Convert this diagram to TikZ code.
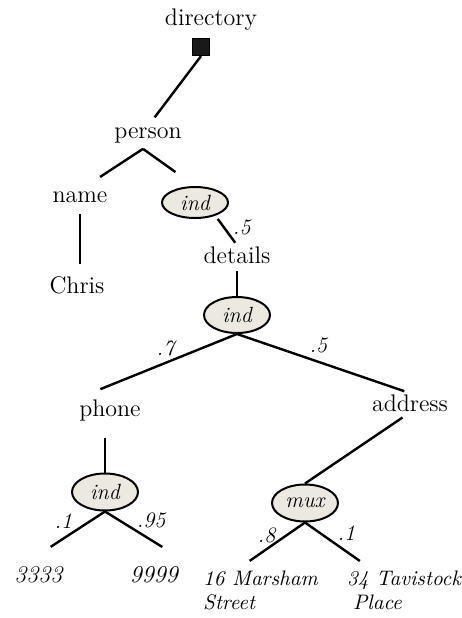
\documentclass[tikz,border=0pt]{standalone}
\usepackage{fontspec}
\usepackage{tikz}
\usetikzlibrary{positioning, shapes.geometric}

\definecolor{indfill}{RGB}{236,234,224}
\tikzset{
  lbl/.style={font=\fontsize{12}{14}\selectfont, inner sep=0pt, anchor=base},
  leaf/.style={lbl, font=\fontsize{12}{14}\selectfont\itshape},
  addr/.style={font=\fontsize{10.5}{12}\selectfont\itshape, align=left, inner sep=0pt, anchor=north west},
  choice/.style={ellipse, draw, fill=indfill, line width=1pt, inner sep=0pt,
    minimum width=33pt, minimum height=18.5pt, font=\fontsize{11}{13}\selectfont\itshape},
  rootbox/.style={draw, fill=black!90, line width=.6pt, minimum size=8.5pt, inner sep=0pt},
  prob/.style={font=\fontsize{11}{13}\selectfont\itshape, inner sep=0pt}
}

\begin{document}
\begin{tikzpicture}[x=.5pt, y=-.5pt, line width=1.2pt]
  \useasboundingbox (0,0) rectangle (462,618);
  \node[lbl] (dir) at (211,25) {directory};
  \node[rootbox] (root) at (201,47) {};
  \node[lbl] (person) at (148,138) {person};
  \node[lbl] (name) at (80,202) {name};
  \node[choice, minimum height=15.5pt] (ind1) at (195,202.5) {ind};
  \node[lbl] (chris) at (77,293) {Chris};
  \node[lbl] (details) at (237,263) {details};
  \node[choice, minimum height=18pt] (ind2) at (237,315) {ind};
  \node[lbl] (phone) at (110,416) {phone};
  \node[lbl] (address) at (410,411) {address};
  \node[choice] (ind3) at (105,492) {ind};
  \node[choice] (mux) at (305,503) {mux};
  \node[leaf] (n3333) at (38.5,582) {3333};
  \node[leaf] (n9999) at (154,582) {9999};
  \node[addr] (marsham) at (202,570) {16 Marsham\\Street};
  \node[addr] (tavistock) at (346,569.5) {34 Tavistock\\\hspace{3pt}Place};

  % person splits into name and the ind node
  \coordinate (fork) at ([xshift=-2.5pt,yshift=-2.5pt]person.south);
  \draw[shorten >=5.5pt] (root.south) -- (person.north);
  \draw[shorten >=12pt] (fork) -- (name.north);
  \draw[shorten >=12pt] (fork) -- (ind1.north);
  \draw[shorten <=5.5pt, shorten >=5.5pt] (name.south) -- (name.south |- chris.north);
  \draw[shorten <=2pt, shorten >=1.5pt] (ind1.-33) -- node[prob, right=4pt, pos=.39] {.5} (details.north);
  \draw[shorten <=3.5pt] (details.south) -- (ind2.north);
  \draw[shorten >=12pt] (ind2.south) -- node[prob, above=3pt, pos=.45] {.7} (phone.north west);
  \draw[shorten >=3pt] (ind2.south) -- node[prob, above=4pt, pos=.47] {.5} (address.north);
  \draw[shorten <=8pt] (phone.south -| ind3.north) -- (ind3.north);
  \draw[shorten <=4.5pt] (address.south) -- (mux.north);
  % leaves
  \draw[shorten >=16.5pt] (ind3.south) -- node[prob, left=8pt, pos=.19] {.1} ([xshift=-7.75pt]n3333.north);
  \draw[shorten >=17pt] (ind3.south) -- node[prob, right=8pt, pos=.17] {.95} ([xshift=6pt]n9999.north east);
  \draw[shorten >=8pt] (mux.south) -- node[prob, left=5pt, pos=.27] {.8} ([xshift=-12pt]marsham.north);
  \draw[shorten >=7.4pt] (mux.south) -- node[prob, right=8pt, pos=.23] {.1} ([xshift=13pt]tavistock.north west);
\end{tikzpicture}
\end{document}
